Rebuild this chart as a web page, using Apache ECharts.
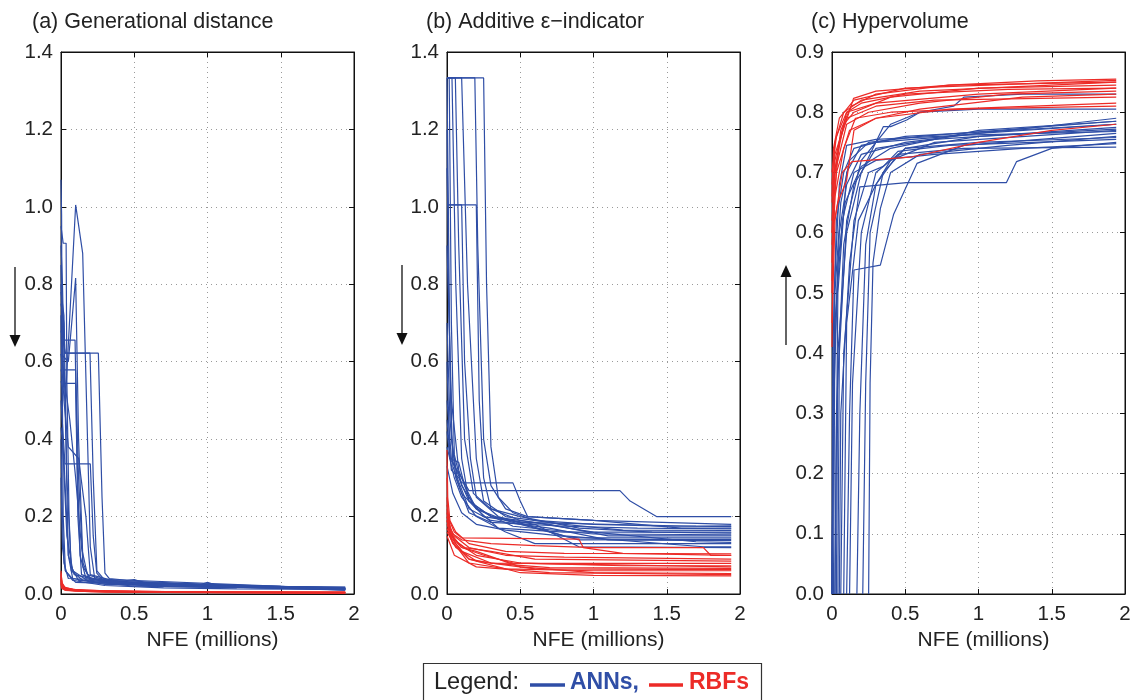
<!DOCTYPE html>
<html>
<head>
<meta charset="utf-8">
<script src="https://cdn.jsdelivr.net/npm/echarts@6/dist/echarts.min.js"></script>
<style>
html,body{margin:0;padding:0;background:#fff;}
#chart{width:1136px;height:700px;}
</style>
</head>
<body>
<div id="chart"></div>
<script>
// ---------------- DATA (x in millions of NFE) ----------------
const panelTitles = ['(a) Generational distance', '(b) Additive \u03b5\u2212indicator', '(c) Hypervolume'];
const xTickLabels = ['0', '0.5', '1', '1.5', '2'];
const xLabel = 'NFE (millions)';
const seriesNames = ['ANNs,', 'RBFs'];

// (a) Generational distance
const gdANN = [
  [[0,1.07],[0.004,0.98],[0.008,0.6],[0.015,0.2],[0.03,0.06],[0.08,0.035],[0.3,0.022],[0.7,0.016],[1.2,0.013],[1.94,0.012]],
  [[0,0.95],[0.015,0.906],[0.035,0.906],[0.04,0.55],[0.055,0.2],[0.07,0.06],[0.15,0.035],[0.5,0.02],[1.94,0.013]],
  [[0,0.55],[0.03,0.5],[0.1,1.005],[0.148,0.88],[0.2,0.122],[0.23,0.04],[0.4,0.025],[1.0,0.018],[1.94,0.015]],
  [[0,0.62],[0.05,0.6],[0.1,0.816],[0.12,0.4],[0.15,0.08],[0.2,0.035],[0.6,0.02],[1.94,0.014]],
  [[0,0.75],[0.02,0.7],[0.027,0.622],[0.255,0.622],[0.28,0.25],[0.3,0.054],[0.33,0.04],[0.45,0.035],[0.5,0.037],[0.56,0.03],[1.0,0.022],[1.94,0.017]],
  [[0,0.68],[0.03,0.622],[0.198,0.622],[0.22,0.3],[0.245,0.06],[0.3,0.035],[1.0,0.02],[1.94,0.015]],
  [[0,0.5],[0.027,0.336],[0.2,0.336],[0.22,0.15],[0.244,0.054],[0.3,0.03],[1.94,0.012]],
  [[0,0.66],[0.027,0.656],[0.096,0.656],[0.11,0.35],[0.13,0.1],[0.17,0.04],[1.94,0.013]],
  [[0,0.8],[0.015,0.579],[0.1,0.579],[0.12,0.3],[0.15,0.07],[0.2,0.04],[0.7,0.02],[1.94,0.014]],
  [[0,0.58],[0.02,0.544],[0.1,0.544],[0.115,0.2],[0.14,0.05],[0.3,0.03],[1.94,0.013]],
  [[0,0.43],[0.02,0.35],[0.05,0.1],[0.08,0.04],[0.3,0.025],[1.94,0.011]],
  [[0,0.3],[0.01,0.12],[0.03,0.06],[0.1,0.03],[1.94,0.01]],
  [[0,0.9],[0.01,0.8],[0.03,0.45],[0.05,0.1],[0.09,0.05],[0.3,0.032],[0.55,0.026],[0.95,0.024],[1.0,0.03],[1.05,0.024],[1.5,0.02],[1.94,0.018]],
  [[0,0.78],[0.02,0.72],[0.04,0.3],[0.07,0.07],[0.12,0.035],[1.94,0.012]],
  [[0,0.62],[0.06,0.45],[0.1,0.3],[0.14,0.12],[0.18,0.05],[0.35,0.03],[1.94,0.014]],
  [[0,0.4],[0.01,0.2],[0.02,0.08],[0.05,0.04],[1.94,0.01]],
  [[0,0.85],[0.02,0.5],[0.05,0.38],[0.12,0.35],[0.17,0.2],[0.2,0.05],[0.4,0.03],[1.94,0.015]],
  [[0,0.72],[0.01,0.4],[0.04,0.15],[0.08,0.06],[0.2,0.03],[1.94,0.012]]
];
const gdRBF = [
  [[0,0.06],[0.005,0.03],[0.02,0.018],[0.08,0.012],[0.3,0.008],[1,0.005],[1.94,0.004]],
  [[0,0.05],[0.005,0.025],[0.02,0.015],[0.08,0.01],[0.3,0.007],[1,0.005],[1.94,0.004]],
  [[0,0.04],[0.004,0.022],[0.02,0.013],[0.1,0.009],[0.4,0.006],[1,0.004],[1.94,0.003]],
  [[0,0.035],[0.006,0.02],[0.03,0.012],[0.1,0.008],[0.5,0.005],[1.94,0.003]],
  [[0,0.055],[0.008,0.028],[0.03,0.016],[0.12,0.01],[0.5,0.006],[1.94,0.004]],
  [[0,0.03],[0.005,0.018],[0.03,0.01],[0.15,0.007],[0.6,0.004],[1.94,0.003]],
  [[0,0.045],[0.01,0.02],[0.05,0.012],[0.2,0.008],[0.8,0.005],[1.94,0.004]],
  [[0,0.025],[0.005,0.015],[0.03,0.009],[0.2,0.006],[1.94,0.003]],
  [[0,0.038],[0.007,0.022],[0.04,0.013],[0.15,0.009],[0.7,0.006],[1.94,0.005]],
  [[0,0.028],[0.01,0.014],[0.06,0.009],[0.3,0.005],[1.94,0.002]]
];

// (b) Additive epsilon-indicator
const epsANN = [
  [[0,1.333],[0.25,1.333],[0.27,0.8],[0.3,0.38],[0.35,0.25],[0.45,0.21],[0.6,0.19],[1.0,0.18],[1.5,0.175],[1.94,0.176]],
  [[0,1.333],[0.19,1.333],[0.21,0.9],[0.25,0.4],[0.3,0.28],[0.4,0.22],[0.55,0.2],[1.0,0.19],[1.6,0.17],[1.94,0.17]],
  [[0,1.333],[0.1,1.333],[0.14,0.8],[0.2,0.35],[0.25,0.24],[0.4,0.2],[0.8,0.18],[1.2,0.165],[1.94,0.164]],
  [[0,1.333],[0.057,1.333],[0.08,0.9],[0.12,0.4],[0.18,0.26],[0.3,0.22],[0.5,0.2],[0.9,0.17],[1.4,0.16],[1.94,0.157]],
  [[0,1.333],[0.034,1.333],[0.06,0.8],[0.1,0.35],[0.15,0.24],[0.3,0.2],[0.7,0.18],[1.1,0.15],[1.94,0.15]],
  [[0,1.333],[0.015,1.333],[0.03,0.7],[0.05,0.36],[0.1,0.28],[0.2,0.22],[0.4,0.19],[0.9,0.14],[1.94,0.141]],
  [[0,1.1],[0.005,1.005],[0.2,1.005],[0.22,0.5],[0.25,0.3],[0.3,0.22],[0.5,0.19],[1.0,0.16],[1.7,0.135],[1.94,0.133]],
  [[0,1.005],[0.1,1.005],[0.12,0.6],[0.16,0.35],[0.2,0.25],[0.35,0.2],[0.8,0.15],[1.75,0.122],[1.94,0.122]],
  [[0,0.6],[0.02,0.35],[0.1,0.3],[0.15,0.267],[1.18,0.267],[1.25,0.24],[1.43,0.2],[1.94,0.2]],
  [[0,0.5],[0.03,0.35],[0.1,0.287],[0.45,0.287],[0.5,0.24],[0.55,0.2],[1.0,0.19],[1.94,0.18]],
  [[0,0.45],[0.03,0.32],[0.08,0.3],[0.15,0.24],[0.3,0.2],[0.6,0.18],[0.9,0.122],[1.94,0.12]],
  [[0,0.42],[0.02,0.35],[0.08,0.34],[0.12,0.28],[0.2,0.22],[0.35,0.17],[0.8,0.16],[1.94,0.16]],
  [[0,0.38],[0.05,0.3],[0.1,0.25],[0.2,0.2],[0.4,0.16],[0.6,0.13],[1.94,0.13]],
  [[0,0.7],[0.02,0.45],[0.06,0.3],[0.15,0.21],[0.3,0.185],[0.8,0.175],[1.3,0.17],[1.94,0.168]],
  [[0,0.9],[0.03,0.5],[0.08,0.32],[0.15,0.25],[0.25,0.2],[0.5,0.185],[1.7,0.175],[1.94,0.174]],
  [[0,1.333],[0.008,1.333],[0.02,0.6],[0.04,0.33],[0.1,0.26],[0.2,0.22],[0.45,0.175],[1.0,0.155],[1.94,0.153]],
  [[0,0.33],[0.04,0.26],[0.1,0.21],[0.2,0.18],[0.4,0.165],[0.9,0.145],[1.94,0.145]],
  [[0,1.2],[0.01,0.8],[0.03,0.4],[0.07,0.3],[0.15,0.22],[0.3,0.19],[0.7,0.17],[1.1,0.14],[1.94,0.138]]
];
const epsRBF = [
  [[0,0.372],[0.005,0.25],[0.02,0.19],[0.06,0.16],[0.15,0.13],[0.4,0.11],[0.8,0.105],[1.94,0.104]],
  [[0,0.3],[0.005,0.2],[0.05,0.16],[0.1,0.145],[0.9,0.142],[0.93,0.12],[1.2,0.105],[1.94,0.1]],
  [[0,0.25],[0.01,0.18],[0.05,0.15],[0.15,0.12],[0.4,0.1],[0.8,0.095],[1.94,0.09]],
  [[0,0.22],[0.01,0.17],[0.06,0.13],[0.15,0.09],[0.3,0.08],[1.0,0.079],[1.94,0.079]],
  [[0,0.2],[0.02,0.16],[0.08,0.13],[0.2,0.1],[0.5,0.08],[1.2,0.073],[1.94,0.073]],
  [[0,0.19],[0.02,0.15],[0.1,0.11],[0.3,0.08],[0.7,0.068],[1.94,0.066]],
  [[0,0.21],[0.03,0.14],[0.15,0.08],[0.4,0.065],[1.0,0.06],[1.94,0.06]],
  [[0,0.18],[0.03,0.15],[0.1,0.12],[0.2,0.11],[0.5,0.07],[1.0,0.055],[1.94,0.053]],
  [[0,0.17],[0.04,0.13],[0.15,0.09],[0.5,0.055],[1.0,0.048],[1.94,0.047]],
  [[0,0.2],[0.05,0.14],[0.12,0.12],[0.3,0.11],[0.6,0.09],[1.94,0.085]],
  [[0,0.16],[0.06,0.12],[0.2,0.085],[0.6,0.065],[1.94,0.063]],
  [[0,0.19],[0.02,0.16],[0.1,0.14],[0.3,0.13],[0.6,0.125],[1.0,0.12],[1.75,0.12],[1.8,0.1],[1.94,0.1]],
  [[0,0.23],[0.03,0.15],[0.1,0.12],[0.25,0.1],[0.45,0.08],[1.94,0.07]],
  [[0,0.15],[0.05,0.1],[0.2,0.07],[0.7,0.055],[1.94,0.05]]
];

// (c) Hypervolume
const hvANN = [
  [[0,0],[0.005,0.4],[0.03,0.62],[0.08,0.7],[0.15,0.74],[0.3,0.75],[0.8,0.76],[1.4,0.775],[1.94,0.79]],
  [[0,0],[0.01,0.35],[0.05,0.6],[0.1,0.68],[0.2,0.73],[0.5,0.75],[1.0,0.765],[1.94,0.78]],
  [[0.02,0],[0.03,0.3],[0.08,0.58],[0.15,0.68],[0.3,0.74],[0.7,0.755],[1.94,0.775]],
  [[0.03,0],[0.04,0.4],[0.1,0.6],[0.2,0.7],[0.35,0.776],[0.4,0.776],[0.51,0.787],[0.6,0.8],[1.0,0.805],[1.94,0.805]],
  [[0.04,0],[0.05,0.4],[0.1,0.62],[0.2,0.72],[0.4,0.78],[0.6,0.8],[0.83,0.81],[0.9,0.825],[1.3,0.83],[1.94,0.83]],
  [[0.05,0],[0.06,0.3],[0.12,0.55],[0.19,0.676],[0.51,0.683],[1.19,0.683],[1.26,0.718],[1.5,0.74],[1.94,0.75]],
  [[0.1,0],[0.12,0.3],[0.15,0.538],[0.33,0.546],[0.42,0.63],[0.58,0.715],[0.9,0.745],[1.94,0.765]],
  [[0.12,0],[0.14,0.35],[0.2,0.6],[0.3,0.7],[0.5,0.74],[1.0,0.75],[1.94,0.758]],
  [[0.17,0],[0.19,0.3],[0.23,0.58],[0.3,0.68],[0.45,0.73],[0.9,0.74],[1.94,0.742]],
  [[0.21,0],[0.23,0.35],[0.26,0.6],[0.35,0.7],[0.5,0.74],[1.0,0.76],[1.94,0.772]],
  [[0.25,0],[0.26,0.35],[0.28,0.55],[0.33,0.64],[0.4,0.7],[0.6,0.73],[1.2,0.745],[1.94,0.76]],
  [[0,0],[0.02,0.5],[0.06,0.65],[0.12,0.72],[0.25,0.75],[0.6,0.76],[1.94,0.785]],
  [[0.01,0],[0.02,0.45],[0.07,0.62],[0.15,0.7],[0.3,0.72],[0.7,0.73],[1.3,0.74],[1.94,0.748]],
  [[0,0],[0.015,0.5],[0.05,0.68],[0.1,0.745],[0.3,0.755],[0.9,0.762],[1.94,0.768]],
  [[0.06,0],[0.08,0.4],[0.15,0.62],[0.25,0.7],[0.35,0.71],[0.45,0.735],[0.8,0.745],[1.94,0.755]],
  [[0,0],[0.01,0.3],[0.04,0.55],[0.09,0.65],[0.2,0.71],[0.4,0.74],[1.0,0.77],[1.94,0.785]],
  [[0.08,0],[0.1,0.45],[0.18,0.62],[0.3,0.68],[0.4,0.72],[0.7,0.75],[1.94,0.77]],
  [[0.02,0],[0.04,0.5],[0.1,0.7],[0.2,0.745],[0.5,0.76],[1.94,0.78]]
];
const hvRBF = [
  [[0,0.41],[0.01,0.65],[0.05,0.75],[0.147,0.823],[0.3,0.835],[0.8,0.845],[1.4,0.852],[1.94,0.855]],
  [[0,0.5],[0.01,0.68],[0.06,0.77],[0.13,0.81],[0.3,0.83],[0.8,0.845],[1.94,0.85]],
  [[0,0.55],[0.015,0.7],[0.08,0.78],[0.15,0.8],[0.4,0.825],[1.0,0.84],[1.94,0.845]],
  [[0,0.6],[0.02,0.72],[0.1,0.8],[0.2,0.815],[0.5,0.83],[1.2,0.838],[1.94,0.84]],
  [[0,0.62],[0.02,0.7],[0.1,0.78],[0.25,0.8],[0.6,0.815],[1.2,0.83],[1.94,0.835]],
  [[0,0.58],[0.03,0.7],[0.12,0.77],[0.3,0.79],[0.6,0.805],[1.3,0.825],[1.94,0.83]],
  [[0,0.65],[0.02,0.73],[0.1,0.79],[0.3,0.81],[0.7,0.82],[1.94,0.825]],
  [[0,0.45],[0.02,0.62],[0.07,0.7],[0.136,0.718],[0.55,0.726],[1.0,0.75],[1.5,0.77],[1.94,0.78]],
  [[0,0.6],[0.04,0.65],[0.1,0.687],[0.15,0.77],[0.3,0.79],[0.8,0.805],[1.94,0.815]],
  [[0,0.68],[0.02,0.75],[0.08,0.8],[0.2,0.82],[0.6,0.835],[1.94,0.85]],
  [[0,0.7],[0.03,0.76],[0.1,0.8],[0.3,0.815],[1.0,0.83],[1.94,0.84]],
  [[0,0.52],[0.02,0.66],[0.08,0.74],[0.16,0.79],[0.4,0.8],[1.0,0.806],[1.94,0.81]],
  [[0,0.66],[0.01,0.74],[0.05,0.79],[0.15,0.82],[0.5,0.84],[1.94,0.853]]
];

// ---------------- LAYOUT / STYLE ----------------
const BLUE = '#2f4ea6';
const RED = '#ec2b27';
const FONT = 'Liberation Sans, Arial, Helvetica, sans-serif';
const gridsPos = [
  {left: 61, top: 52, width: 293, height: 542},
  {left: 447, top: 52, width: 293, height: 542},
  {left: 832, top: 52, width: 293, height: 542}
];
const yRanges = [{max: 1.4, interval: 0.2}, {max: 1.4, interval: 0.2}, {max: 0.9, interval: 0.1}];
const annData = [gdANN, epsANN, hvANN];
const rbfData = [gdRBF, epsRBF, hvRBF];

const chart = echarts.init(document.getElementById('chart'), null, {renderer: 'canvas'});

const grid = gridsPos.map(g => Object.assign({show: true, borderColor: '#111', borderWidth: 1, backgroundColor: 'transparent', containLabel: false}, g));

const xAxis = [];
const yAxis = [];
for (let i = 0; i < 3; i++) {
  xAxis.push({
    type: 'value', gridIndex: i, min: 0, max: 2, interval: 0.5, position: 'bottom',
    name: xLabel, nameLocation: 'middle', nameGap: 33,
    nameTextStyle: {fontFamily: FONT, fontSize: 21, color: '#222', padding: [0, 0, 0, 10]},
    axisLine: {show: true, onZero: false, lineStyle: {color: '#111', width: 1}},
    axisTick: {show: true, inside: true, length: 5, lineStyle: {color: '#111'}},
    axisLabel: {fontFamily: FONT, fontSize: 20.5, color: '#222', margin: 10,
      formatter: v => xTickLabels[Math.round(v / 0.5)]},
    splitLine: {show: true, lineStyle: {color: '#9a9a9a', width: 1, type: [1, 4]}}
  });
  yAxis.push({
    type: 'value', gridIndex: i, min: 0, max: yRanges[i].max, interval: yRanges[i].interval, position: 'left',
    axisLine: {show: true, onZero: false, lineStyle: {color: '#111', width: 1}},
    axisTick: {show: true, inside: true, length: 5, lineStyle: {color: '#111'}},
    axisLabel: {fontFamily: FONT, fontSize: 20.5, color: '#222', margin: 8, formatter: v => v.toFixed(1)},
    splitLine: {show: true, lineStyle: {color: '#9a9a9a', width: 1, type: [1, 4]}}
  });
}
for (let i = 0; i < 3; i++) {
  xAxis.push({
    type: 'value', gridIndex: i, min: 0, max: 2, interval: 0.5, position: 'top',
    axisLine: {show: true, onZero: false, lineStyle: {color: '#111', width: 1}},
    axisTick: {show: true, inside: true, length: 5, lineStyle: {color: '#111'}},
    axisLabel: {show: false}, splitLine: {show: false}
  });
  yAxis.push({
    type: 'value', gridIndex: i, min: 0, max: yRanges[i].max, interval: yRanges[i].interval, position: 'right',
    axisLine: {show: true, onZero: false, lineStyle: {color: '#111', width: 1}},
    axisTick: {show: true, inside: true, length: 5, lineStyle: {color: '#111'}},
    axisLabel: {show: false}, splitLine: {show: false}
  });
}

const series = [];
for (let i = 0; i < 3; i++) {
  annData[i].forEach(d => series.push({
    type: 'line', name: seriesNames[0], xAxisIndex: i, yAxisIndex: i, data: d,
    showSymbol: false, symbol: 'none', silent: true, clip: true,
    lineStyle: {color: BLUE, width: 1.2}
  }));
}
for (let i = 0; i < 3; i++) {
  rbfData[i].forEach(d => series.push({
    type: 'line', name: seriesNames[1], xAxisIndex: i, yAxisIndex: i, data: d,
    showSymbol: false, symbol: 'none', silent: true, clip: true,
    lineStyle: {color: RED, width: 1.2}
  }));
}

const title = [
  {text: panelTitles[0], left: 32, top: 11},
  {text: panelTitles[1], left: 426, top: 11},
  {text: panelTitles[2], left: 811, top: 11}
].map(t => Object.assign(t, {padding: 0, textStyle: {fontFamily: FONT, fontSize: 21.5, fontWeight: 'normal', color: '#222'}}));

function arrow(x, yTop, yBot, up) {
  const tip = up ? yTop : yBot;
  const base = up ? yTop + 12 : yBot - 12;
  return [
    {type: 'line', silent: true, shape: {x1: x, y1: up ? base : yTop, x2: x, y2: up ? yBot : base}, style: {stroke: '#111', lineWidth: 1.3}},
    {type: 'polygon', silent: true, shape: {points: [[x - 5.5, base], [x + 5.5, base], [x, tip]]}, style: {fill: '#111'}}
  ];
}

const graphic = [
  ...arrow(15, 267, 347, false),
  ...arrow(402, 265, 345, false),
  ...arrow(786, 265, 345, true),
  {type: 'rect', silent: true, shape: {x: 423.5, y: 663.5, width: 338, height: 50}, style: {fill: '#fff', stroke: '#333', lineWidth: 1.2}},
  {type: 'text', silent: true, x: 434, y: 683, style: {text: 'Legend:', fontFamily: FONT, fontSize: 23.5, fill: '#222', textVerticalAlign: 'middle'}},
  {type: 'line', silent: true, shape: {x1: 530, y1: 685, x2: 565, y2: 685}, style: {stroke: BLUE, lineWidth: 3.5}},
  {type: 'text', silent: true, x: 570, y: 683, style: {text: seriesNames[0], fontFamily: FONT, fontSize: 23, fontWeight: 'bold', fill: BLUE, textVerticalAlign: 'middle'}},
  {type: 'line', silent: true, shape: {x1: 649, y1: 685, x2: 683, y2: 685}, style: {stroke: RED, lineWidth: 3.5}},
  {type: 'text', silent: true, x: 689, y: 683, style: {text: seriesNames[1], fontFamily: FONT, fontSize: 23, fontWeight: 'bold', fill: RED, textVerticalAlign: 'middle'}}
];

chart.setOption({
  animation: false,
  backgroundColor: '#fff',
  title, grid, xAxis, yAxis, series, graphic
});
</script>
</body>
</html>
